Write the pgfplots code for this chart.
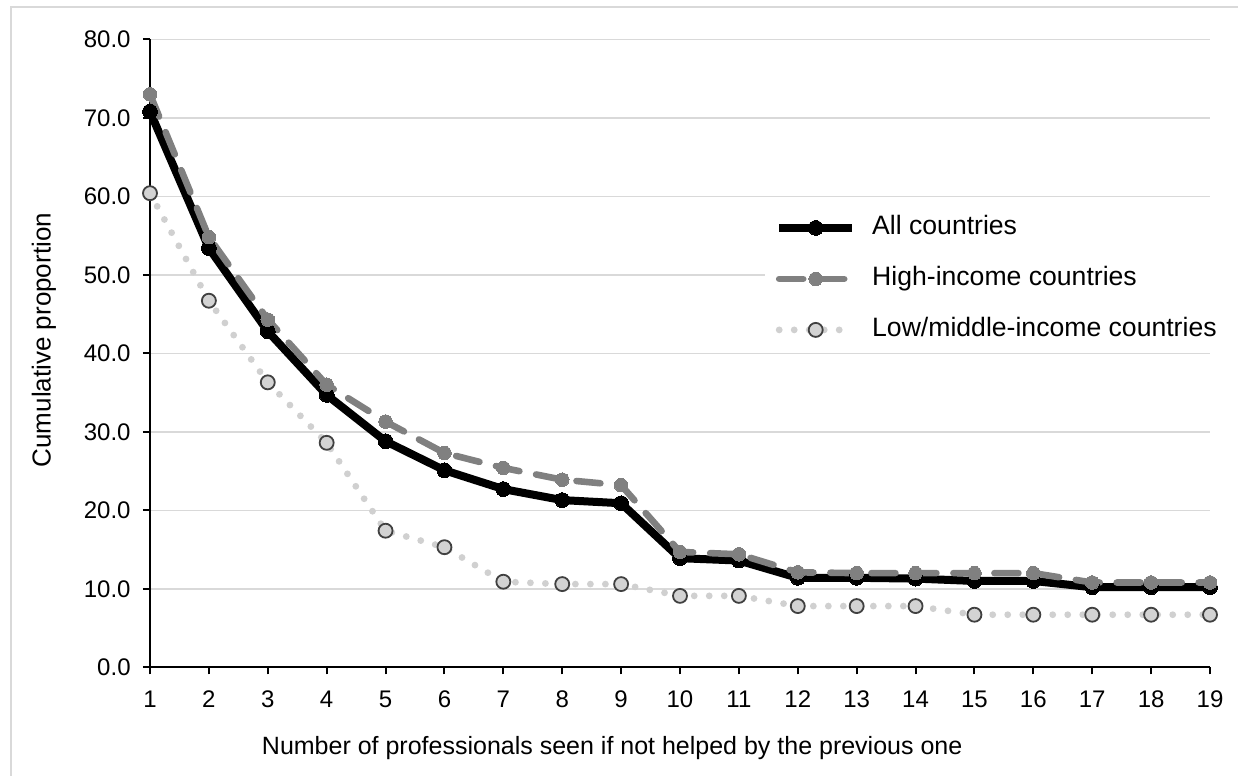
\documentclass[border=0pt]{standalone}
\usepackage{fontspec}
\setmainfont{Liberation Sans}
\usepackage{pgfplots}
\pgfplotsset{compat=1.18}
\definecolor{gridgray}{HTML}{D9D9D9}
\definecolor{highgray}{HTML}{808080}
\definecolor{lowgray}{HTML}{D0D0D0}
\definecolor{lowfill}{HTML}{D3D3D3}
\definecolor{lowedge}{HTML}{404040}
\begin{document}
\begin{tikzpicture}
\useasboundingbox (0pt,0pt) rectangle (619pt,-388pt);
\draw[gridgray, line width=0.75pt] (5.5pt,-400pt) -- (5.5pt,-3.5pt) -- (630pt,-3.5pt);
\begin{axis}[
  at={(75pt,-333.65pt)}, anchor=south west,
  scale only axis, width=530pt, height=314pt,
  xmin=1, xmax=19, ymin=0, ymax=80,
  clip=false,
  axis x line*=bottom, axis y line*=left,
  axis line style={line width=1pt, black, -},
  xtick={1,...,19}, ytick={0,10,...,80},
  tick align=outside, major tick length=3.5pt,
  tick style={black, line width=1pt},
  ymajorgrids, major grid style={gridgray, line width=0.75pt},
  /pgf/number format/assume math mode=true,
  yticklabel style={/pgf/number format/.cd, fixed, fixed zerofill, precision=1, /tikz/.cd, font=\fontsize{12}{14}\selectfont, inner sep=0pt, anchor=east, xshift=-6pt},
  xticklabel style={font=\fontsize{12}{14}\selectfont, inner sep=0pt, anchor=north, yshift=-8pt},
  xlabel={Number of professionals seen if not helped by the previous one},
  ylabel={Cumulative proportion},
  xlabel style={at={(axis description cs:0.436,-0.1285)}, anchor=center, font=\fontsize{12.5}{15}\selectfont},
  ylabel style={at={(axis description cs:-0.1000,0.521)}, anchor=center, font=\fontsize{13}{15}\selectfont},
  legend cell align=left,
  legend image code/.code={\draw[mark repeat=2,mark phase=2,#1] plot coordinates {(0pt,0pt) (18.25pt,0pt) (36.5pt,0pt)};},
  legend style={at={(rel axis cs:0.580,0.6185)}, anchor=west, draw=none, fill=white, inner sep=5pt,
    font=\fontsize{13.3}{15}\selectfont,
    nodes={inner sep=0pt, text height=10pt, text depth=3pt},
    row sep=12.5pt,
    /tikz/every odd column/.append style={column sep=8pt}},
]
\addplot[black, line width=4pt, line join=round, mark=*, mark size=3.7pt, mark options={solid, fill=black, draw=black, line width=0pt}]
coordinates {(1,70.8) (2,53.4) (3,42.8) (4,34.7) (5,28.8) (6,25.1) (7,22.7) (8,21.3) (9,20.9) (10,13.9) (11,13.6) (12,11.4) (13,11.4) (14,11.3) (15,11.0) (16,11.0) (17,10.2) (18,10.2) (19,10.2)};
\addlegendentry{All countries}
\addplot[highgray, line width=3.3pt, line cap=round, line join=round, dash pattern=on 12pt off 8.5pt, mark=*, mark size=3.4pt, mark options={solid, fill=highgray, draw=highgray, line width=0pt}]
coordinates {(1,73.0) (2,54.8) (3,44.3) (4,36.0) (5,31.3) (6,27.3) (7,25.4) (8,23.9) (9,23.2) (10,14.7) (11,14.4) (12,12.1) (13,12.0) (14,12.0) (15,12.0) (16,12.0) (17,10.8) (18,10.8) (19,10.8)};
\addlegendentry{High-income countries}
\addplot[lowgray, line width=3.4pt, line cap=round, dash pattern=on 0pt off 7.5pt, mark=*, mark size=3.5pt, mark options={solid, fill=lowfill, draw=lowedge, line width=0.9pt}]
coordinates {(1,60.4) (2,46.7) (3,36.3) (4,28.6) (5,17.4) (6,15.3) (7,10.9) (8,10.6) (9,10.6) (10,9.1) (11,9.1) (12,7.8) (13,7.8) (14,7.8) (15,6.7) (16,6.7) (17,6.7) (18,6.7) (19,6.7)};
\addlegendentry{Low/middle-income countries}
\end{axis}
\end{tikzpicture}
\end{document}
